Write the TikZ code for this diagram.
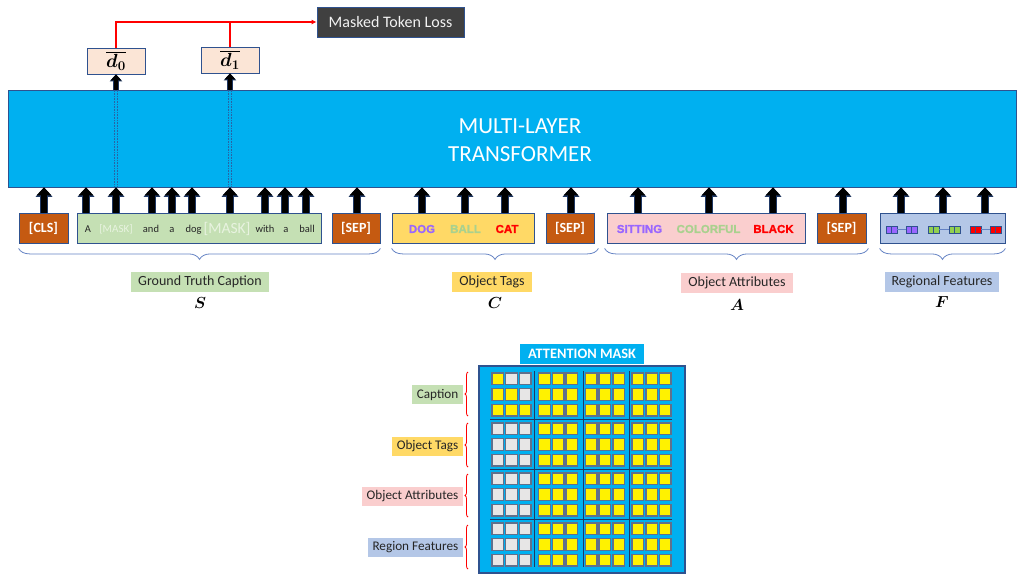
\documentclass[tikz,border=0pt]{standalone}
\usepackage{fix-cm}
\usepackage[no-math]{fontspec}
\usepackage{bm}
\setmainfont{Carlito}
\newfontfamily\tagfont[BoldFeatures={FakeBold=1.2}]{Liberation Sans}
\usetikzlibrary{arrows.meta,decorations.pathreplacing,calc}

\definecolor{tfblue}{RGB}{0,176,240}
\definecolor{edgeblue}{RGB}{47,82,143}
\definecolor{arrowedge}{RGB}{31,56,100}
\definecolor{sepbrown}{RGB}{197,90,17}
\definecolor{capgreen}{RGB}{197,224,180}
\definecolor{tagyellow}{RGB}{255,217,102}
\definecolor{attrpink}{RGB}{250,206,206}
\definecolor{regblue}{RGB}{180,199,231}
\definecolor{peach}{RGB}{251,229,214}
\definecolor{lossgray}{RGB}{64,64,64}
\definecolor{wordpurple}{RGB}{153,102,255}
\definecolor{wordgreen}{RGB}{169,209,142}
\definecolor{maskpale}{RGB}{232,243,224}
\definecolor{braceblue}{RGB}{100,130,195}
\definecolor{celledge}{RGB}{96,112,140}
\definecolor{cellgray}{RGB}{231,230,230}
\definecolor{gridline}{RGB}{31,56,100}
\definecolor{dotblue}{RGB}{40,100,165}
\definecolor{txtdark}{RGB}{38,38,38}
\definecolor{glyphgreen}{RGB}{146,208,80}

\newcommand{\fsz}[1]{\fontsize{#1}{#1}\selectfont}

\tikzset{
  tokbox/.style={draw=edgeblue, line width=0.8pt, minimum height=30pt, inner sep=0pt},
  sepbox/.style={tokbox, fill=sepbrown, text=white, font=\bfseries\fsz{14}},
  tokup/.style={line width=6pt, draw=black,
    -{Triangle[width=15pt,length=8pt,line width=0pt]},
    preaction={draw=arrowedge, line width=7.4pt,
      -{Triangle[width=17pt,length=9.5pt,line width=0pt]}}},
  smallup/.style={line width=4.6pt, draw=black,
    -{Triangle[width=11pt,length=6pt,line width=0pt]},
    preaction={draw=arrowedge, line width=5.8pt,
      -{Triangle[width=12.6pt,length=7pt,line width=0pt]}}},
  lossline/.style={draw=red, line width=1.5pt},
  dotline/.style={draw=dotblue, line width=0.6pt, densely dotted},
  grpbrace/.style={draw=braceblue, line width=0.8pt, decorate,
    decoration={brace, mirror, amplitude=11pt}},
  rowbrace/.style={draw=red, line width=0.8pt, decorate,
    decoration={brace, amplitude=3pt}},
  grplabel/.style={inner xsep=7pt, inner ysep=0pt, minimum height=20pt,
    font=\fsz{14}, text=txtdark},
  rowlabel/.style={anchor=east, inner xsep=4.5pt, inner ysep=0pt,
    minimum height=19pt, font=\fsz{13.2}, text=txtdark},
  setsym/.style={font=\fsz{16}},
  word/.style={anchor=base, inner sep=0pt, font=\fsz{10.5}, text=txtdark},
  tagword/.style={inner sep=0pt, font=\tagfont\bfseries\fsz{11.5}},
  dbox/.style={draw=edgeblue, line width=0.8pt, fill=peach,
    minimum width=58pt, minimum height=26pt, inner sep=0pt, font=\fsz{19}},
}

\begin{document}
\begin{tikzpicture}[x=1pt,y=-1pt]
\useasboundingbox (0,0) rectangle (1020,574);

% ---------- transformer and outputs ----------
\node[draw=edgeblue, line width=0.8pt, fill=tfblue, minimum width=1008pt,
  minimum height=97pt, inner sep=0pt] (tf) at (512,138.5) {};
\node[text=white, align=center, font=\fsz{23}, inner sep=0pt] (tftext) at (520,140)
  {MULTI-LAYER\\[5pt]TRANSFORMER};

\node[dbox] (d0) at (116,61) {$\overline{\bm{d_0}}$};
\node[dbox] (d1) at (230,60) {$\overline{\bm{d_1}}$};

\node[draw=edgeblue, line width=0.8pt, fill=lossgray, text=white!95!black,
  minimum width=147pt, minimum height=30pt, inner sep=0pt, font=\fsz{16}]
  (mtl) at (390.5,22) {Masked Token Loss};

\draw[lossline, -{Latex[length=5pt,width=5pt]}] (d0.north) |- (mtl.west);
\draw[lossline] (d1.north) -- (d1.north |- mtl.west);

\draw[smallup] (tf.north -| d0) -- (d0.south);
\draw[smallup] (tf.north -| d1) -- (d1.south);

% dotted guides through the transformer under the masked positions
\coordinate (v0a) at (114.5,0); \coordinate (v0b) at (117.5,0);
\coordinate (v1a) at (228.5,0); \coordinate (v1b) at (231.5,0);
\foreach \v in {v0a,v0b,v1a,v1b}
  \draw[dotline] (tf.north -| \v) -- (tf.south -| \v);

% ---------- input tokens ----------
\node[sepbox, minimum width=49pt] (cls) at (43.5,228) {[CLS]};
\node[tokbox, fill=capgreen, minimum width=244pt] (capbox) at (199,228) {};
\node[sepbox, minimum width=48pt] (sep1) at (356,228) {[SEP]};
\node[tokbox, fill=tagyellow, minimum width=142pt] (tags) at (463,228) {};
\node[sepbox, minimum width=48pt] (sep2) at (570,228) {[SEP]};
\node[tokbox, fill=attrpink, minimum width=198pt] (attr) at (706,228) {};
\node[sepbox, minimum width=49pt] (sep3) at (841.5,228) {[SEP]};
\node[tokbox, fill=regblue, minimum width=125pt] (reg) at (942.5,228) {};

% caption words
\node[word] (w1) at (88,232) {A};
\node[word, text=maskpale, font=\fsz{11}] (w2) at (116,232) {[MASK]};
\node[word] (w3) at (151,232) {and};
\node[word] (w4) at (172,232) {a};
\node[word] (w5) at (193.5,232) {dog};
\node[word, text=maskpale, font=\fsz{15.5}] (w6) at (227,233) {[MASK]};
\node[word] (w7) at (265,232) {with};
\node[word] (w8) at (286,232) {a};
\node[word] (w9) at (307,232) {ball};

% tag and attribute words
\node[tagword, text=wordpurple] (t1) at (422,229) {DOG};
\node[tagword, text=wordgreen] (t2) at (465.5,229) {BALL};
\node[tagword, text=red] (t3) at (507,229) {CAT};
\node[tagword, text=wordpurple] (a1) at (639.5,229) {SITTING};
\node[tagword, text=wordgreen] (a2) at (708.5,229) {COLORFUL};
\node[tagword, text=red] (a3) at (773.5,229) {BLACK};

% region feature glyphs
\foreach \gx/\col in {886/wordpurple,906/wordpurple,928/glyphgreen,
                      949/glyphgreen,970/red,990/red}{
  \fill[\col] (\gx,226) rectangle ++(11,7);
  \draw[edgeblue, line width=0.5pt] (\gx,226) rectangle ++(11,7)
    (\gx+5.5,226) -- ++(0,7);
}
\foreach \ax/\bx in {897/906,939/949,981/990}
  \draw[braceblue, line width=0.8pt] (\ax,229.5) -- (\bx,229.5);

% arrows into the transformer
\foreach \n/\x in {cls/44,capbox/86,capbox/116,capbox/152,capbox/172,capbox/192,
    capbox/230,capbox/265,capbox/285,capbox/306,sep1/357,tags/422,tags/465,
    tags/505,sep2/571,attr/638,attr/709,attr/773,sep3/843,reg/901,reg/943,reg/985}{
  \coordinate (p) at (\x,0);
  \draw[tokup] (\n.north -| p) -- (tf.south -| p);
}

% ---------- groups ----------
\draw[grpbrace] ([yshift=-5pt]cls.south west) -- ([yshift=-5pt]sep1.south east);
\draw[grpbrace] ([yshift=-5pt]tags.south west) -- ([xshift=4pt,yshift=-5pt]sep2.south east);
\draw[grpbrace] ([xshift=-2pt,yshift=-5pt]attr.south west) -- ([xshift=2pt,yshift=-5pt]sep3.south east);
\draw[grpbrace] ([yshift=-5pt]reg.south west) -- ([yshift=-5pt]reg.south east);

\node[grplabel, fill=capgreen] (lS) at (200,282) {Ground Truth Caption};
\node[grplabel, fill=tagyellow] (lC) at (492,282) {Object Tags};
\node[grplabel, fill=attrpink] (lA) at (737,283) {Object Attributes};
\node[grplabel, fill=regblue] (lF) at (942,282) {Regional Features};

\node[setsym] (sS) at (200,303) {$\bm{S}$};
\node[setsym] (sC) at (495,303) {$\bm{C}$};
\node[setsym] (sA) at (737,305) {$\bm{A}$};
\node[setsym] (sF) at (942,302) {$\bm{F}$};

% ---------- attention mask ----------
\node[fill=tfblue, text=white, font=\bfseries\fsz{14.4}, minimum width=124pt,
  minimum height=20pt, inner sep=0pt] (masktitle) at (582,354) {ATTENTION MASK};
\node[draw=edgeblue, line width=1.5pt, fill=tfblue, minimum width=206pt,
  minimum height=207pt, inner sep=0pt] (mask) at (582,469.5) {};

\foreach \yy in {419,469,519}
  \draw[gridline, line width=1pt] (490,\yy) -- (672,\yy);
\foreach \xx in {534.5,583,629}
  \draw[gridline, line width=1pt] (\xx,371) -- (\xx,567);

\foreach \r in {0,...,11}{
  \foreach \c in {0,...,11}{
    \pgfmathsetmacro\cx{492+int(\c/3)*46.7+mod(\c,3)*13.7}
    \pgfmathsetmacro\cy{373+int(\r/3)*50+mod(\r,3)*15.7}
    \pgfmathtruncatemacro\g{(\c<3)*(((\r>2)+(\c>\r))>0)}
    \ifnum\g=1 \def\cc{cellgray}\else\def\cc{yellow}\fi
    \filldraw[fill=\cc, draw=celledge, line width=1.4pt]
      (\cx,\cy) rectangle ++(11.5,11.5);
  }
}

\node[rowlabel, fill=capgreen] (rC) at (463,394.5) {Caption};
\node[rowlabel, fill=tagyellow] (rT) at (463,446) {Object Tags};
\node[rowlabel, fill=attrpink] (rA) at (463,496) {Object Attributes};
\node[rowlabel, fill=regblue] (rR) at (463,547.5) {Region Features};

\coordinate (bx) at (468,0);
\draw[rowbrace] (bx |- 0,416) -- (bx |- 0,372);
\draw[rowbrace] (bx |- 0,467) -- (bx |- 0,423);
\draw[rowbrace] (bx |- 0,517) -- (bx |- 0,474);
\draw[rowbrace] (bx |- 0,569) -- (bx |- 0,525);
\end{tikzpicture}
\end{document}
